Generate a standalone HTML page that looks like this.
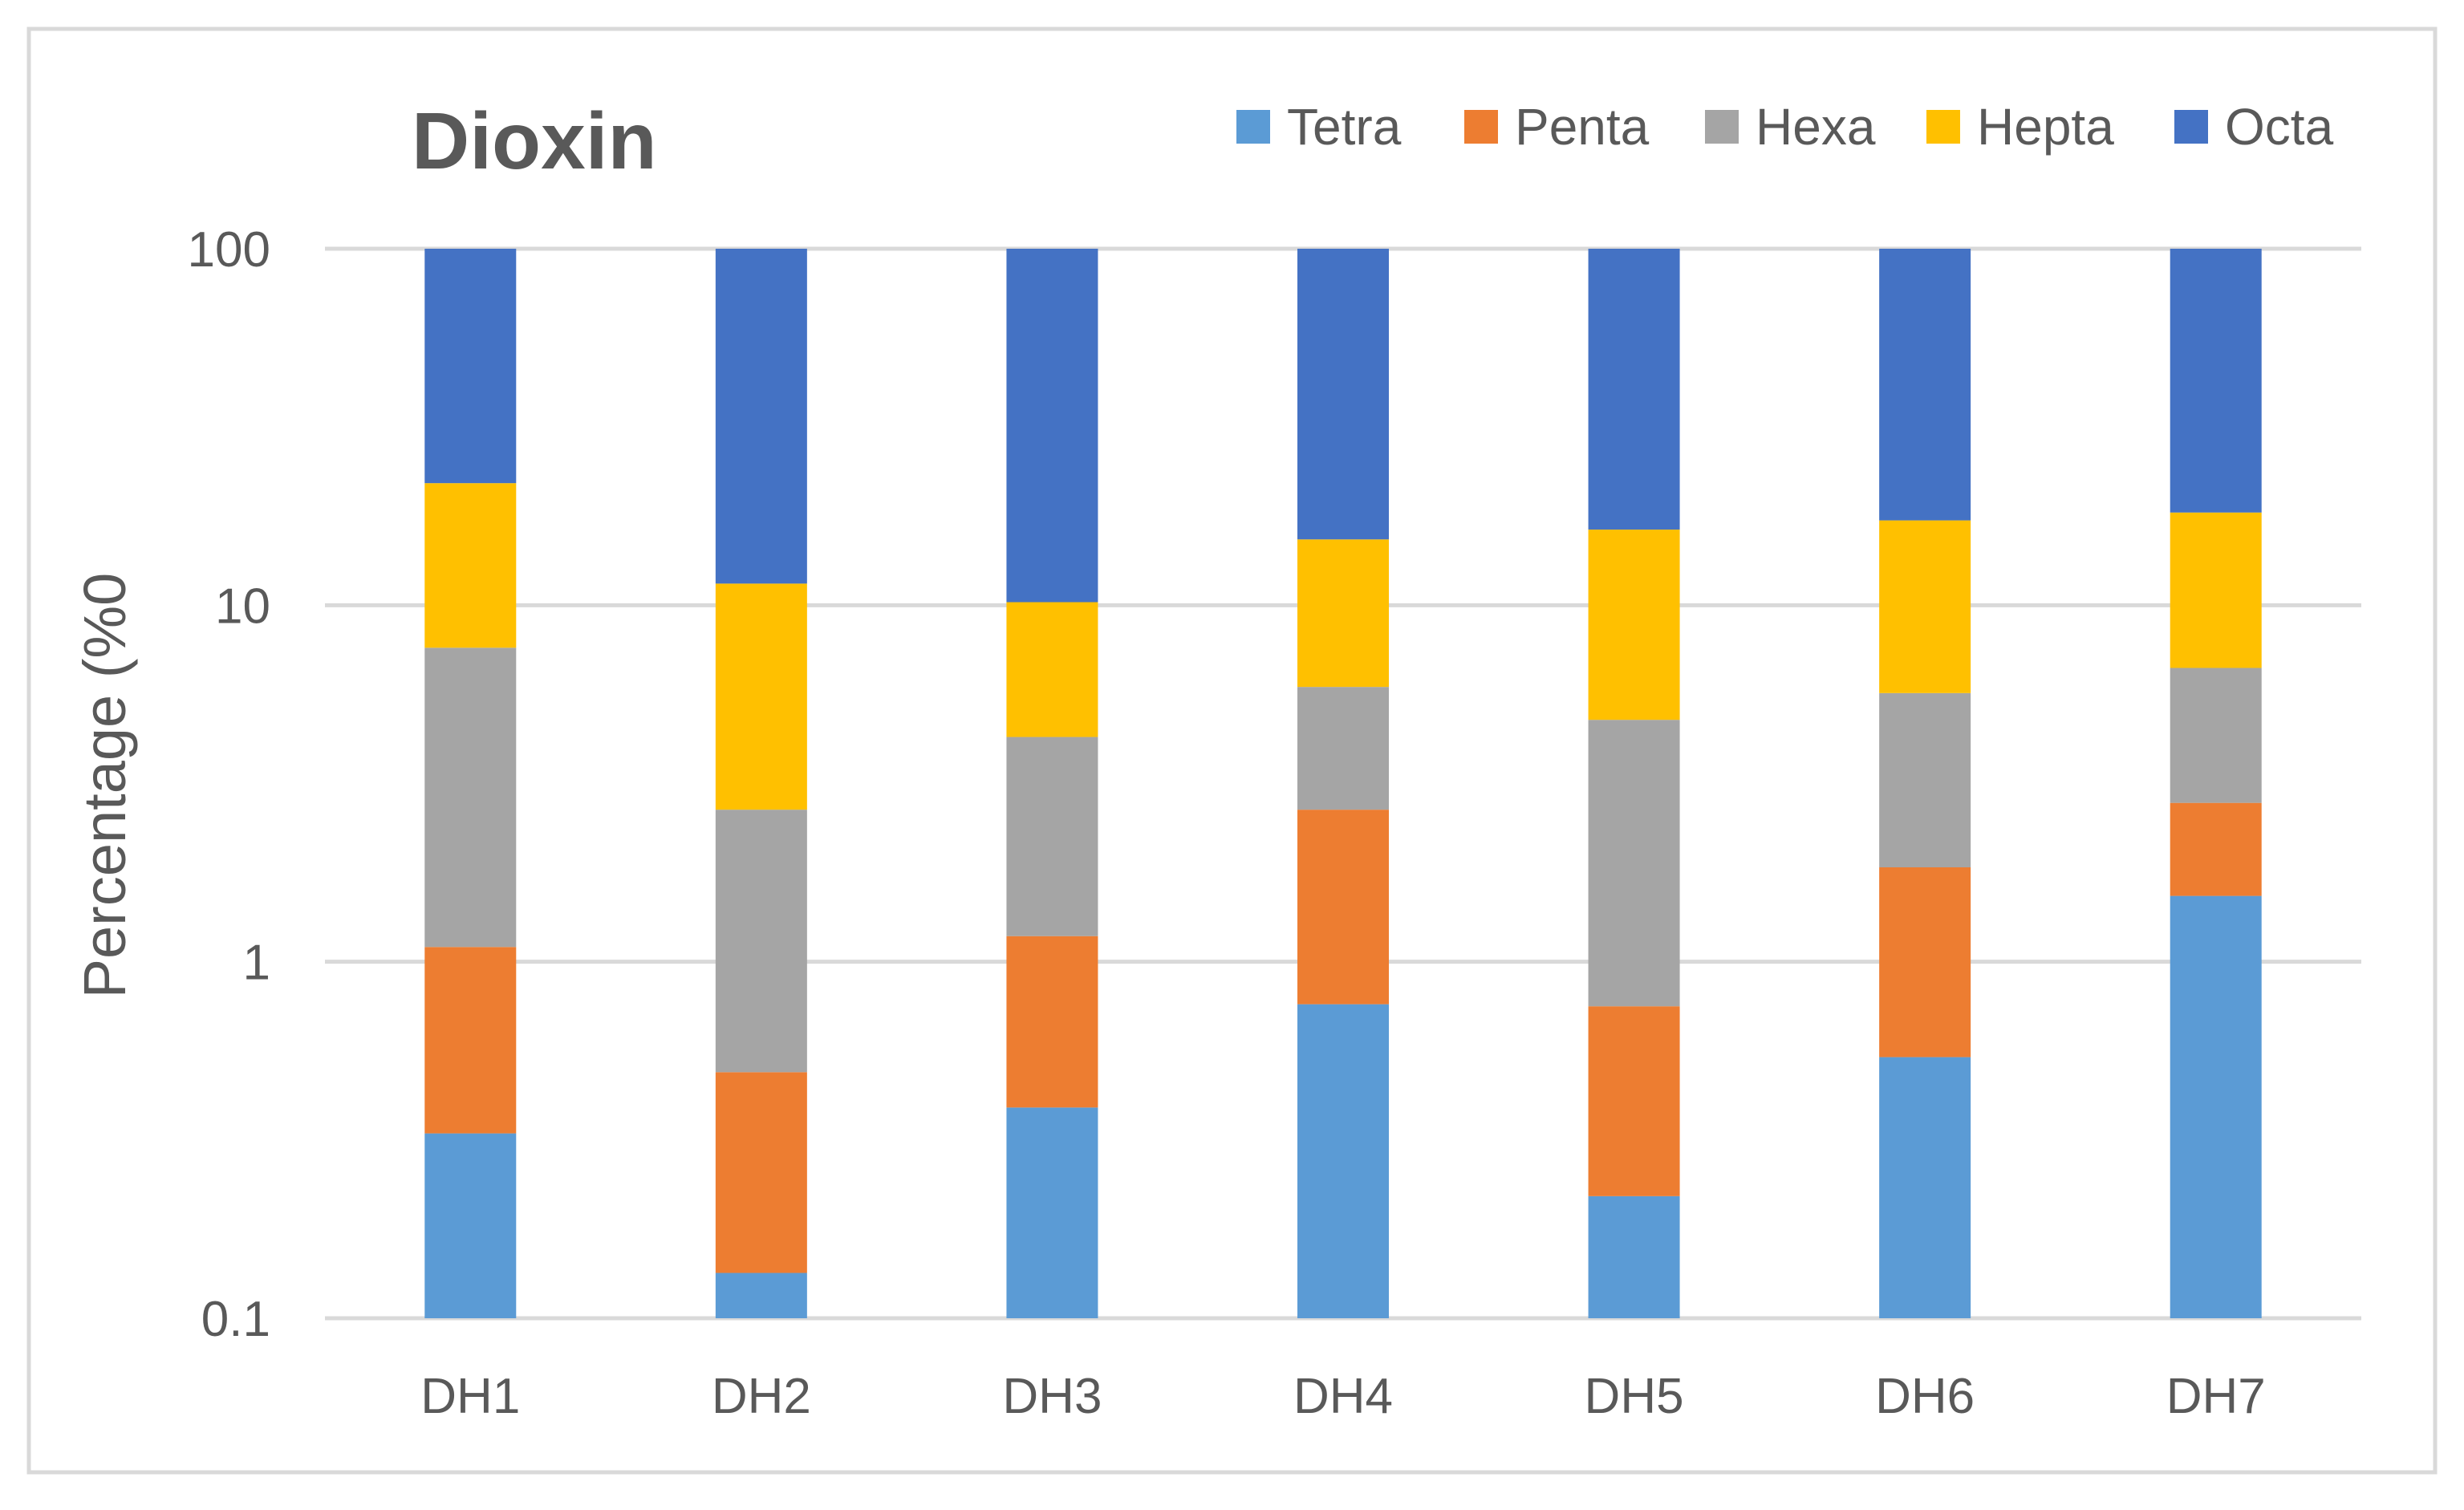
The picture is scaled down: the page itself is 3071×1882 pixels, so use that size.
<!DOCTYPE html>
<html><head><meta charset="utf-8"><style>
body{margin:0;background:#fff;}
svg text{font-family:"Liberation Sans",sans-serif;fill:#595959;}
</style></head><body>
<svg id="chart" width="3071" height="1877" viewBox="0 0 3071 1877" xmlns="http://www.w3.org/2000/svg">
<rect x="36" y="36" width="2999" height="1799" fill="#fff" stroke="#d9d9d9" stroke-width="5"/>
<text x="513" y="210" font-size="100" font-weight="bold">Dioxin</text>
<g id="grid"></g>
<g id="bars"></g>
<g id="legend"></g>
<text transform="translate(156,979) rotate(-90)" text-anchor="middle" font-size="74">Percentage (%0</text>
</svg>
<script>
const categories=["DH1","DH2","DH3","DH4","DH5","DH6","DH7"];
const tetra=[0.33,0.134,0.39,0.76,0.22,0.54,1.53];
const penta=[0.77,0.356,0.79,1.91,0.53,1.30,1.26];
const hexa=[6.5,2.18,3.09,3.23,4.02,3.83,3.88];
const hepta=[14.4,8.83,5.93,9.4,11.53,11.63,11.53];
const octa=[78,88.5,89.8,84.7,83.7,82.7,81.8];
const yTicks=[0.1,1,10,100];
const yTickLabels=["0.1","1","10","100"];
const seriesNames=["Tetra","Penta","Hexa","Hepta","Octa"];
const seriesColors=["#5b9bd5","#ed7d31","#a5a5a5","#ffc000","#4472c4"];
const series=[tetra,penta,hexa,hepta,octa];

const NS="http://www.w3.org/2000/svg";
const X0=405,X1=2943,YTOP=310,YBOT=1643;
function y(v){return YBOT-(Math.log10(v)-Math.log10(0.1))/3*(YBOT-YTOP);}
const band=(X1-X0)/categories.length;
function xc(i){return X0+band*(i+0.5);}
function mk(tag,attrs,parent){const e=document.createElementNS(NS,tag);for(const k in attrs)e.setAttribute(k,attrs[k]);parent.appendChild(e);return e;}
const grid=document.getElementById('grid');
yTicks.forEach((t,i)=>{
  const l=mk('line',{x1:X0,x2:X1,y1:y(t),y2:y(t),stroke:'#d9d9d9','stroke-width':5},grid);
  
  
  const tx=mk('text',{x:337,y:y(t)+22,'text-anchor':'end','font-size':62},grid);
  tx.textContent=yTickLabels[i];
  
  
});
const bars=document.getElementById('bars');
const bw=114;
categories.forEach((c,i)=>{
  let base=0;
  series.forEach((s,j)=>{
    const top=base+s[i];
    const y0=y(Math.max(base,0.1)), y1=y(top);
    const r=mk('rect',{x:xc(i)-bw/2,y:y1,width:bw,height:Math.max(0,y0-y1),fill:seriesColors[j]},bars);
    
    
    base=top;
  });
  const t=mk('text',{x:xc(i),y:1761,'text-anchor':'middle','font-size':62},bars);
  t.textContent=c;
  
  
});
const legend=document.getElementById('legend');
const lx=[1541,1825,2125,2401,2710];
seriesNames.forEach((n,j)=>{
  const r=mk('rect',{x:lx[j],y:137,width:42,height:42,fill:seriesColors[j]},legend);
  
  
  const t=mk('text',{x:lx[j]+63,y:180,'font-size':64},legend);
  t.textContent=n;
  
  
});
</script>
</body></html>
